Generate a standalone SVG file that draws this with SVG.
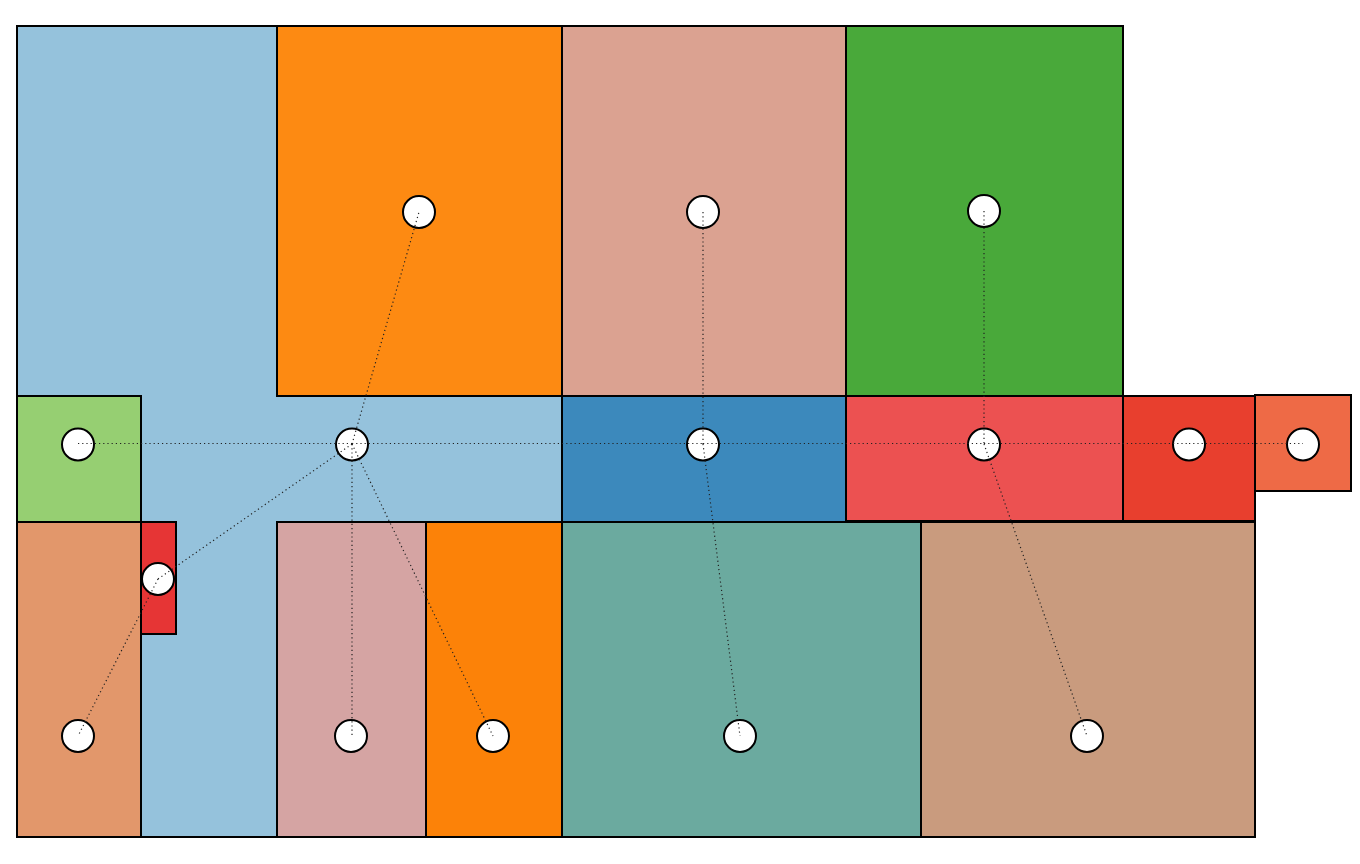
<svg xmlns="http://www.w3.org/2000/svg" width="1360" height="864" viewBox="0 0 1360 864">
<style>
.room{stroke:#000;stroke-width:2;stroke-linejoin:miter}
.node{fill:#fff;stroke:#000;stroke-width:2}
.edge{stroke:#222;stroke-width:1.2;stroke-dasharray:1.2 3;fill:none}
</style>
<rect width="1360" height="864" fill="#fff"/>
<g id="rooms">
<polygon id="hall" class="room" fill="#95c2dc" points="17,26 277,26 277,396 562,396 562,522 277,522 277,837 17,837"/>
<rect id="r-orange-top" class="room" fill="#fd8a12" x="277" y="26" width="285" height="370"/>
<rect id="r-salmon" class="room" fill="#dba291" x="562" y="26" width="284" height="370"/>
<rect id="r-green" class="room" fill="#49a93a" x="846" y="26" width="277" height="370"/>
<rect id="r-lightgreen" class="room" fill="#96cf72" x="17" y="396" width="124" height="126"/>
<rect id="r-blue" class="room" fill="#3c89bc" x="562" y="396" width="284" height="126"/>
<rect id="r-redpink" class="room" fill="#ec5151" x="846" y="396" width="277" height="125"/>
<rect id="r-red" class="room" fill="#e83f2e" x="1123" y="396" width="132" height="125"/>
<rect id="r-orangered" class="room" fill="#ee6a46" x="1255" y="395" width="96" height="96"/>
<rect id="r-tanleft" class="room" fill="#e2976b" x="17" y="522" width="124" height="315"/>
<rect id="r-smallred" class="room" fill="#e63535" x="141" y="522" width="35" height="112"/>
<rect id="r-pink" class="room" fill="#d5a4a3" x="277" y="522" width="149" height="315"/>
<rect id="r-orange-bot" class="room" fill="#fc8208" x="426" y="522" width="136" height="315"/>
<rect id="r-teal" class="room" fill="#6baa9f" x="562" y="522" width="359" height="315"/>
<rect id="r-tan" class="room" fill="#c99b7e" x="921" y="522" width="334" height="315"/>
</g>
<g id="nodes">
<circle id="n1" class="node" cx="419" cy="212" r="16"/>
<circle id="n2" class="node" cx="703" cy="212" r="16"/>
<circle id="n3" class="node" cx="984" cy="211" r="16"/>
<circle id="n4" class="node" cx="78" cy="444.5" r="16"/>
<circle id="n5" class="node" cx="352" cy="444.5" r="16"/>
<circle id="n6" class="node" cx="703" cy="444.5" r="16"/>
<circle id="n7" class="node" cx="984" cy="444.5" r="16"/>
<circle id="n8" class="node" cx="1189" cy="444.5" r="16"/>
<circle id="n9" class="node" cx="1303" cy="444.5" r="16"/>
<circle id="n10" class="node" cx="158" cy="579" r="16"/>
<circle id="n11" class="node" cx="78" cy="736" r="16"/>
<circle id="n12" class="node" cx="351" cy="736" r="16"/>
<circle id="n13" class="node" cx="493" cy="736" r="16"/>
<circle id="n14" class="node" cx="740" cy="736" r="16"/>
<circle id="n15" class="node" cx="1087" cy="736" r="16"/>
</g>
<g id="connectors">
<line class="edge" x1="78" y1="443.5" x2="352" y2="443.5"/>
<line class="edge" x1="352" y1="443.5" x2="703" y2="443.5"/>
<line class="edge" x1="703" y1="443.5" x2="984" y2="443.5"/>
<line class="edge" x1="984" y1="443.5" x2="1189" y2="443.5"/>
<line class="edge" x1="1189" y1="443.5" x2="1303" y2="443.5"/>
<line class="edge" x1="352" y1="444" x2="419" y2="212"/>
<line class="edge" x1="352" y1="444" x2="158" y2="579"/>
<line class="edge" x1="352" y1="444" x2="352" y2="736"/>
<line class="edge" x1="352" y1="444" x2="493" y2="736"/>
<line class="edge" x1="158" y1="579" x2="78" y2="736"/>
<line class="edge" x1="703" y1="212" x2="703" y2="444"/>
<line class="edge" x1="703" y1="444" x2="740" y2="736"/>
<line class="edge" x1="984" y1="211" x2="984" y2="444"/>
<line class="edge" x1="984" y1="444" x2="1087" y2="736"/>
</g>
</svg>
